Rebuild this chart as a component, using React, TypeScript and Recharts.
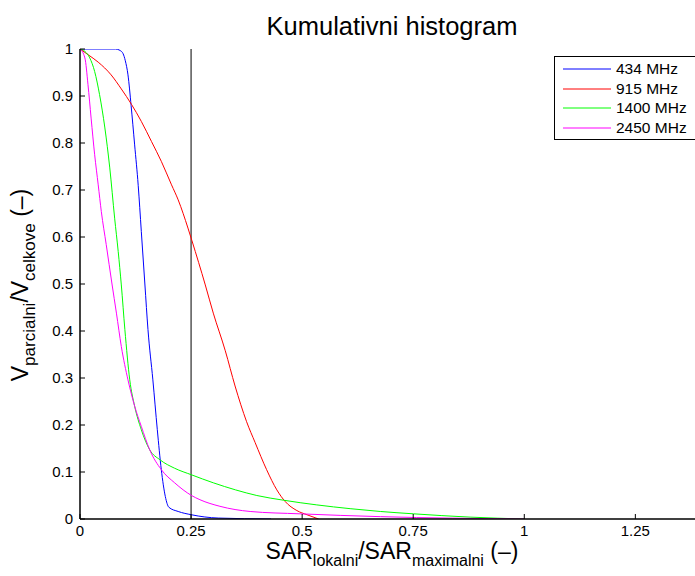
import React from 'react';
import { LineChart, Line, XAxis, YAxis, ReferenceLine, Label } from 'recharts';

const FONT = '"Liberation Sans", Arial, Helvetica, sans-serif';

const xTicks = [0, 0.25, 0.5, 0.75, 1, 1.25];
const xTickLabels = ['0', '0.25', '0.5', '0.75', '1', '1.25'];
const yTicks = [0, 0.1, 0.2, 0.3, 0.4, 0.5, 0.6, 0.7, 0.8, 0.9, 1];
const yTickLabels = ['0', '0.1', '0.2', '0.3', '0.4', '0.5', '0.6', '0.7', '0.8', '0.9', '1'];

// 434 MHz
const x434 = [0, 0.08, 0.09, 0.097, 0.102, 0.108, 0.115, 0.123, 0.131, 0.138, 0.146, 0.153, 0.164, 0.174, 0.183, 0.192, 0.2, 0.221, 0.251, 0.311, 0.43];
const y434 = [1, 1, 0.997, 0.99, 0.975, 0.945, 0.88, 0.796, 0.71, 0.612, 0.5, 0.403, 0.296, 0.19, 0.105, 0.048, 0.025, 0.016, 0.009, 0.002, 0];

// 915 MHz
const x915 = [0, 0.018, 0.041, 0.07, 0.093, 0.116, 0.138, 0.161, 0.183, 0.206, 0.221, 0.243, 0.252, 0.282, 0.3, 0.327, 0.349, 0.375, 0.394, 0.42, 0.443, 0.462, 0.488, 0.511, 0.537];
const y915 = [1, 0.988, 0.972, 0.945, 0.915, 0.882, 0.846, 0.803, 0.761, 0.711, 0.679, 0.619, 0.592, 0.498, 0.438, 0.358, 0.283, 0.207, 0.163, 0.105, 0.062, 0.037, 0.018, 0.009, 0];

// 1400 MHz
const x1400 = [0, 0.011, 0.022, 0.033, 0.044, 0.056, 0.067, 0.078, 0.086, 0.093, 0.101, 0.112, 0.123, 0.138, 0.157, 0.18, 0.213, 0.251, 0.3, 0.35, 0.398, 0.458, 0.533, 0.608, 0.676, 0.751, 0.878, 1.0];
const y1400 = [1, 0.995, 0.981, 0.952, 0.903, 0.832, 0.747, 0.64, 0.569, 0.498, 0.403, 0.296, 0.24, 0.19, 0.147, 0.126, 0.108, 0.094, 0.077, 0.062, 0.05, 0.04, 0.03, 0.022, 0.016, 0.011, 0.004, 0];

// 2450 MHz
const x2450 = [0, 0.011, 0.018, 0.025, 0.033, 0.041, 0.048, 0.059, 0.072, 0.082, 0.093, 0.108, 0.123, 0.138, 0.157, 0.183, 0.213, 0.251, 0.27, 0.315, 0.383, 0.495, 0.676, 1.0];
const y2450 = [1, 0.981, 0.924, 0.853, 0.775, 0.711, 0.654, 0.584, 0.5, 0.438, 0.367, 0.296, 0.24, 0.197, 0.147, 0.105, 0.077, 0.05, 0.041, 0.027, 0.016, 0.011, 0.005, 0];

const seriesNames = ['434 MHz', '915 MHz', '1400 MHz', '2450 MHz'];
const seriesColors = ['#0000ff', '#ff0000', '#00ff00', '#ff00ff'];
const seriesX = [x434, x915, x1400, x2450];
const seriesY = [y434, y915, y1400, y2450];

const toPoints = (xs: number[], ys: number[]) => xs.map((x, i) => ({ x, y: ys[i] }));

const BottomTick = (props: any) => {
  const { x, y, payload } = props;
  const i = xTicks.indexOf(payload.value);
  return (
    <g>
      <line x1={x} y1={y} x2={x} y2={y - 5} stroke="#000" />
      <text x={x} y={y + 17} textAnchor="middle" fontSize={15} fontFamily={FONT} fill="#000">
        {i >= 0 ? xTickLabels[i] : payload.value}
      </text>
    </g>
  );
};

const TopTick = (props: any) => {
  const { x, y } = props;
  return <line x1={x} y1={y} x2={x} y2={y + 5} stroke="#000" />;
};

const LeftTick = (props: any) => {
  const { x, y, payload } = props;
  const i = yTicks.indexOf(payload.value);
  return (
    <g>
      <line x1={x} y1={y} x2={x + 5} y2={y} stroke="#000" />
      <text x={x - 7} y={y + 5} textAnchor="end" fontSize={15} fontFamily={FONT} fill="#000">
        {i >= 0 ? yTickLabels[i] : payload.value}
      </text>
    </g>
  );
};

const RightTick = (props: any) => {
  const { x, y } = props;
  return <line x1={x} y1={y} x2={x - 5} y2={y} stroke="#000" />;
};

const XTitleAndTitle = () => (
  <g>
    <text x={392} y={35} textAnchor="middle" fontSize={25.5} fontFamily={FONT} fill="#000">
      Kumulativni histogram
    </text>
    <text x={392} y={559} textAnchor="middle" fontSize={23} fontFamily={FONT} fill="#000">
      SAR<tspan fontSize={16} dy={7}>lokalni</tspan>
      <tspan dy={-7}>/SAR</tspan>
      <tspan fontSize={16} dy={7}>maximalni</tspan>
      <tspan dy={-7}> (–)</tspan>
    </text>
  </g>
);

const YTitle = () => (
  <text x={0} y={0} transform="translate(28, 285) rotate(-90)" textAnchor="middle" fontSize={23} fontFamily={FONT} fill="#000">
    V<tspan fontSize={17} dy={7}>parcialni</tspan>
    <tspan dy={-7}>/V</tspan>
    <tspan fontSize={17} dy={7}>celkove</tspan>
    <tspan dy={-7}> (–)</tspan>
  </text>
);

export default function App() {
  return (
    <div style={{ position: 'absolute', left: 0, top: 0, width: 695, height: 576, overflow: 'hidden', background: '#fff' }}>
      <LineChart width={720} height={576} margin={{ top: 49, right: 18, bottom: 0, left: 0 }}>
        <XAxis
          dataKey="x"
          type="number"
          domain={[0, 1.4]}
          ticks={xTicks}
          interval={0}
          allowDataOverflow
          height={57}
          tickSize={0}
          tickMargin={0}
          tickLine={false}
          tick={<BottomTick />}
          axisLine={{ stroke: '#000', strokeWidth: 1.5 }}
        >
          <Label content={<XTitleAndTitle />} />
        </XAxis>
        <XAxis
          xAxisId="top"
          orientation="top"
          dataKey="x"
          type="number"
          domain={[0, 1.4]}
          ticks={xTicks}
          interval={0}
          allowDataOverflow
          height={0}
          tickSize={0}
          tickMargin={0}
          tickLine={false}
          tick={<TopTick />}
          axisLine={{ stroke: '#000', strokeWidth: 1.5 }}
        />
        <YAxis
          type="number"
          domain={[0, 1]}
          ticks={yTicks}
          interval={0}
          allowDataOverflow
          width={80}
          tickSize={0}
          tickMargin={0}
          tickLine={false}
          tick={<LeftTick />}
          axisLine={{ stroke: '#000', strokeWidth: 1.5 }}
        >
          <Label content={<YTitle />} />
        </YAxis>
        <YAxis
          yAxisId="right"
          orientation="right"
          type="number"
          domain={[0, 1]}
          ticks={yTicks}
          interval={0}
          width={0}
          tickSize={0}
          tickMargin={0}
          tickLine={false}
          tick={<RightTick />}
          axisLine={{ stroke: '#000', strokeWidth: 1.5 }}
        />
        <ReferenceLine x={0.25} stroke="#000" strokeWidth={1} />
        {seriesNames.map((name, s) => (
          <Line
            key={name}
            name={name}
            data={toPoints(seriesX[s], seriesY[s])}
            dataKey="y"
            type="monotone"
            stroke={seriesColors[s]}
            strokeWidth={1}
            dot={false}
            activeDot={false}
            isAnimationActive={false}
          />
        ))}
      </LineChart>
      <div
        style={{
          position: 'absolute',
          left: 554,
          top: 56,
          width: 150,
          height: 82,
          border: '1px solid #000',
          background: '#fff',
          fontFamily: FONT,
          fontSize: 15.5,
          color: '#000',
        }}
      >
        {seriesNames.map((name, s) => (
          <div key={name} style={{ position: 'absolute', left: 0, top: 3 + s * 19.6, height: 18, width: 150 }}>
            <svg style={{ position: 'absolute', left: 8, top: 8 }} width={48} height={3}>
              <line x1={0} y1={1} x2={48} y2={1} stroke={seriesColors[s]} strokeWidth={1} />
            </svg>
            <div style={{ position: 'absolute', left: 61, top: 1, lineHeight: '16px', whiteSpace: 'nowrap' }}>{name}</div>
          </div>
        ))}
      </div>
    </div>
  );
}
